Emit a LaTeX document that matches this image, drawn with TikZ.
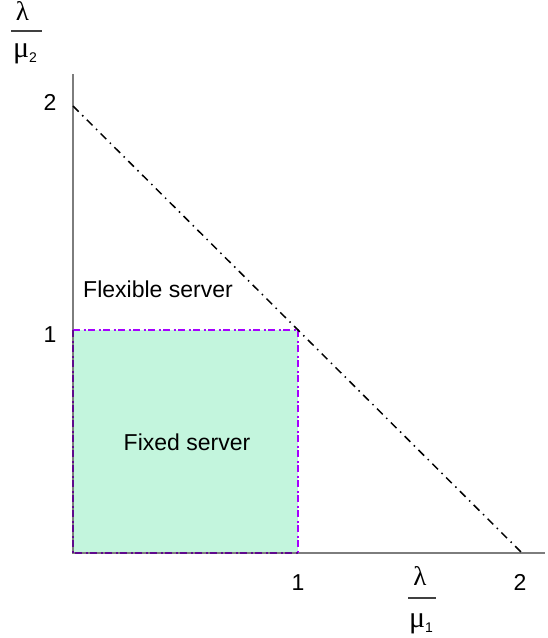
\documentclass[tikz,border=0pt]{standalone}
\usepackage{fontspec}
\setmainfont{Liberation Sans}
\newfontfamily\greekfont{Liberation Serif}
\definecolor{regionfill}{RGB}{195,245,221}
\definecolor{regionedge}{RGB}{165,0,255}
\definecolor{regionedgedark}{RGB}{95,10,140}
\definecolor{axisgray}{RGB}{125,125,125}
\tikzset{
  axisline/.style={draw=axisgray, line width=1.5pt},
  boundline/.style={draw=black, line width=1.5pt, dash pattern=on 8pt off 5pt on 1.5pt off 5pt},
  edgeline/.style={line width=2pt, dash pattern=on 6.5pt off 4pt on 2pt off 2.5pt},
  lbl/.style={inner sep=0pt, anchor=base, font=\fontsize{23}{23}\selectfont},
  greek/.style={inner sep=0pt, anchor=base, font=\greekfont\fontsize{27}{27}\selectfont},
  greekmu/.style={inner sep=0pt, anchor=base, font=\greekfont\fontsize{30}{30}\selectfont},
  fracbar/.style={draw=black!75, line width=1.2pt},
}
\newcommand{\subdigit}[1]{\raisebox{-5pt}{\fontspec{Liberation Sans}\fontsize{14}{14}\selectfont#1}}
\begin{document}
\begin{tikzpicture}[x=1pt, y=-1pt]
  \useasboundingbox (0,0) rectangle (547,638);

  % key points of the plane
  \coordinate (O)     at (73,553);
  \coordinate (ytop)  at (73,74);
  \coordinate (xend)  at (545,553);
  \coordinate (y2)    at (73,106);
  \coordinate (x2)    at (522,553);
  \coordinate (y1)    at (73,330);
  \coordinate (x1)    at (298,553);
  \coordinate (c11)   at (298,330);

  % stability region of the fixed server
  \fill[regionfill] (O) rectangle (c11);

  % axes
  \draw[axisline] (ytop) -- (O) -- (xend);

  % border of the fixed-server region
  \draw[edgeline, regionedge] (y1) -- (c11) -- (x1);
  \draw[edgeline, regionedgedark] (y1) -- (O) -- (x1);

  % boundary of the flexible-server region
  \draw[boundline] (y2) -- (x2);

  % tick labels
  \node[lbl] (ly2) at (50,110) {2};
  \node[lbl] (ly1) at (50,342) {1};
  \node[lbl] (lx1) at (298,590) {1};
  \node[lbl] (lx2) at (520,590) {2};

  % region labels
  \node[lbl] (flex) at (158,297) {Flexible server};
  \node[lbl] (fix)  at (187,450) {Fixed server};

  % vertical axis label lambda / mu_2
  \node[greek] (ylam) at (22.5,20) {λ};
  \coordinate (ybarl) at (11,31);
  \coordinate (ybarr) at (42,31);
  \draw[fracbar] (ybarl) -- (ybarr);
  \node[greekmu] (ymu) at (25,57) {μ\subdigit{2}};

  % horizontal axis label lambda / mu_1
  \node[greek] (xlam) at (420,585) {λ};
  \coordinate (xbarl) at (408,598);
  \coordinate (xbarr) at (436,598);
  \draw[fracbar] (xbarl) -- (xbarr);
  \node[greekmu] (xmu) at (421,627) {μ\subdigit{1}};
\end{tikzpicture}
\end{document}
